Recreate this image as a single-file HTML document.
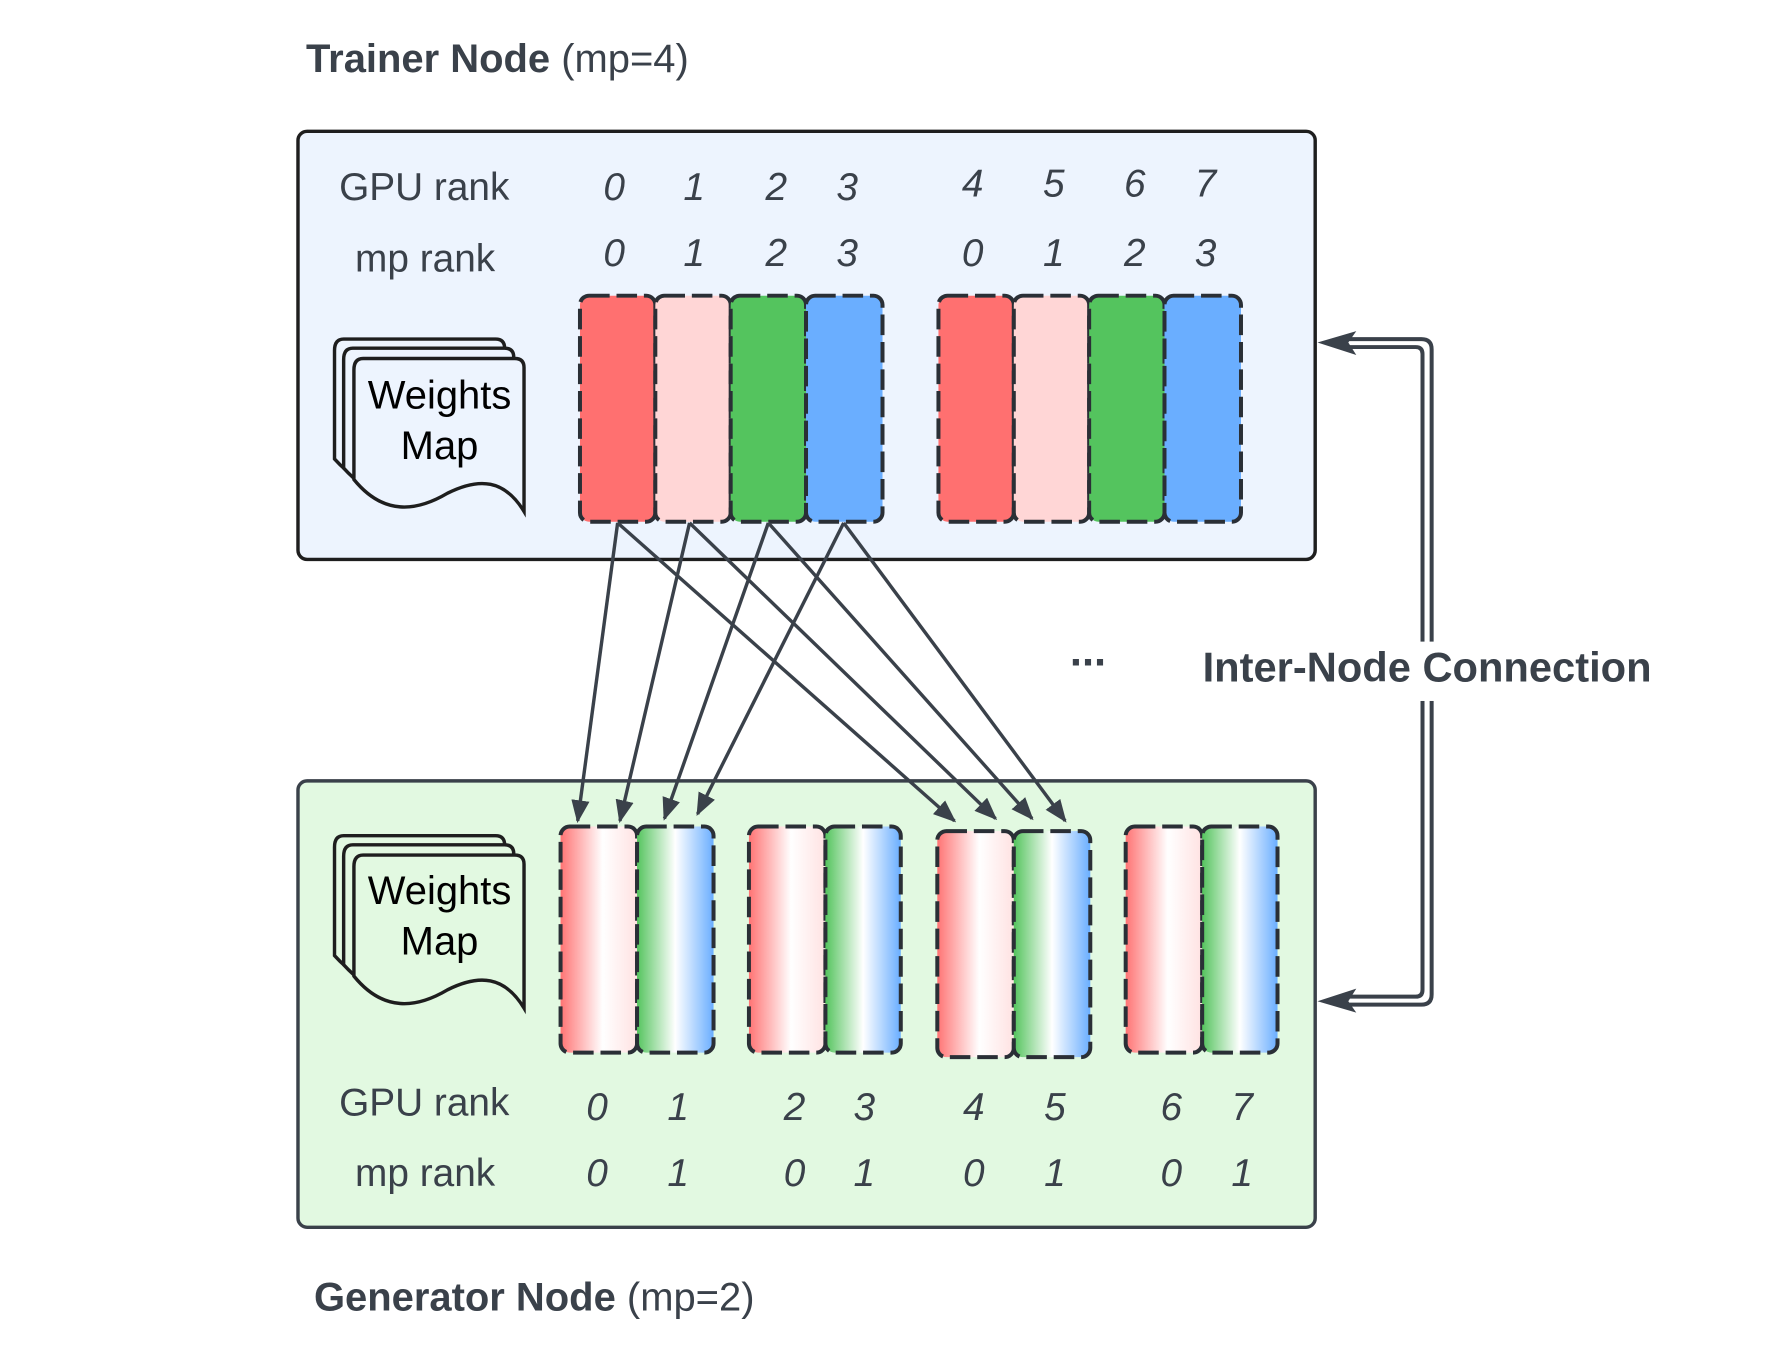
<!DOCTYPE html>
<html><head><meta charset="utf-8"><style>html,body{margin:0;padding:0;background:#fff}svg{display:block}</style></head>
<body>
<svg width="1781" height="1354" viewBox="0 0 1560 1186" xmlns="http://www.w3.org/2000/svg" font-family="Liberation Sans, sans-serif">
<defs>
<linearGradient id="rg" x1="0" x2="1" y1="0" y2="0"><stop offset="0" stop-color="#ff7474"/><stop offset="0.55" stop-color="#ffffff"/><stop offset="1" stop-color="#ffe2e2"/></linearGradient>
<linearGradient id="gb" x1="0" x2="1" y1="0" y2="0"><stop offset="0" stop-color="#55c45e"/><stop offset="0.5" stop-color="#ffffff"/><stop offset="1" stop-color="#6aaeff"/></linearGradient>
<marker id="ah2" markerWidth="20" markerHeight="16" refX="18" refY="8" orient="auto" markerUnits="userSpaceOnUse" viewBox="0 0 20 16"><path d="M0,0 L20,8 L0,16 Z" fill="#3a414a"/></marker>
</defs>

<text x="268" y="63" font-size="35" fill="#3a414a"><tspan font-weight="bold">Trainer Node</tspan> (mp=4)</text>
<text x="275" y="1148" font-size="35" fill="#3a414a"><tspan font-weight="bold">Generator Node</tspan> (mp=2)</text>

<rect x="261" y="115" width="891" height="375" rx="8" fill="#edf4fe" stroke="#1e1e1e" stroke-width="3"/>
<rect x="261" y="684" width="891" height="391" rx="8" fill="#e2f9e1" stroke="#3a414a" stroke-width="3"/>

<g font-size="34" fill="#3a414a">
<text x="297" y="175">GPU rank</text><text x="311" y="238">mp rank</text>
<text x="297" y="977">GPU rank</text><text x="311" y="1039">mp rank</text>
</g>
<g font-size="34" fill="#3a414a" font-style="italic" text-anchor="middle">
<text x="538" y="175">0</text><text x="608" y="175">1</text><text x="680" y="175">2</text><text x="742" y="175">3</text>
<text x="852" y="172">4</text><text x="923" y="172">5</text><text x="994" y="172">6</text><text x="1056" y="172">7</text>
<text x="538" y="233">0</text><text x="608" y="233">1</text><text x="680" y="233">2</text><text x="742" y="233">3</text>
<text x="852" y="233">0</text><text x="923" y="233">1</text><text x="994" y="233">2</text><text x="1056" y="233">3</text>
<text x="523" y="981">0</text><text x="594" y="981">1</text><text x="696" y="981">2</text><text x="757" y="981">3</text>
<text x="853" y="981">4</text><text x="924" y="981">5</text><text x="1026" y="981">6</text><text x="1088" y="981">7</text>
<text x="523" y="1039">0</text><text x="594" y="1039">1</text><text x="696" y="1039">0</text><text x="757" y="1039">1</text>
<text x="853" y="1039">0</text><text x="924" y="1039">1</text><text x="1026" y="1039">0</text><text x="1088" y="1039">1</text>
</g>

<g stroke="#2a2f36" stroke-width="3.5" stroke-dasharray="18 6">
<rect x="508" y="259" width="66" height="198" rx="8" fill="#ff7070"/>
<rect x="574" y="259" width="66" height="198" rx="8" fill="#ffd6d6"/>
<rect x="640" y="259" width="66" height="198" rx="8" fill="#54c45e"/>
<rect x="706" y="259" width="67" height="198" rx="8" fill="#6aaeff"/>
<rect x="822" y="259" width="66" height="198" rx="8" fill="#ff7070"/>
<rect x="888" y="259" width="66" height="198" rx="8" fill="#ffd6d6"/>
<rect x="954" y="259" width="66" height="198" rx="8" fill="#54c45e"/>
<rect x="1020" y="259" width="67" height="198" rx="8" fill="#6aaeff"/>
</g>
<g stroke="#2a2f36" stroke-width="3.5" stroke-dasharray="18 6">
<rect x="491" y="724" width="67" height="198" rx="8" fill="url(#rg)"/>
<rect x="558" y="724" width="67" height="198" rx="8" fill="url(#gb)"/>
<rect x="656" y="724" width="67" height="198" rx="8" fill="url(#rg)"/>
<rect x="723" y="724" width="66" height="198" rx="8" fill="url(#gb)"/>
<rect x="821" y="728" width="67" height="198" rx="8" fill="url(#rg)"/>
<rect x="888" y="728" width="67" height="198" rx="8" fill="url(#gb)"/>
<rect x="986" y="724" width="67" height="198" rx="8" fill="url(#rg)"/>
<rect x="1053" y="724" width="66" height="198" rx="8" fill="url(#gb)"/>
</g>

<g stroke="#1e1e1e" stroke-width="3" fill="#edf4fe">
<path d="M293,307 q0,-10 8,-10 h133 q8,0 8,8 v118 C425,395 400,408 378,420 C350,434 320,432 293,402 Z"/>
<path d="M301,315 q0,-10 8,-10 h133 q8,0 8,8 v118 C433,403 408,416 386,428 C358,442 328,440 301,410 Z"/>
<path d="M310,324 q0,-10 8,-10 h133 q8,0 8,8 v126 C442,420 420,418 392,432 C365,448 336,452 310,420 Z"/>
</g>
<g stroke="#1e1e1e" stroke-width="3" fill="#e2f9e1">
<path d="M293,742 q0,-10 8,-10 h133 q8,0 8,8 v118 C425,830 400,843 378,855 C350,869 320,867 293,837 Z"/>
<path d="M301,750 q0,-10 8,-10 h133 q8,0 8,8 v118 C433,838 408,851 386,863 C358,877 328,875 301,845 Z"/>
<path d="M310,759 q0,-10 8,-10 h133 q8,0 8,8 v126 C442,855 420,853 392,867 C365,883 336,887 310,855 Z"/>
</g>
<g font-size="35" fill="#000" text-anchor="middle">
<text x="385" y="358">Weights</text><text x="385" y="402">Map</text>
<text x="385" y="792">Weights</text><text x="385" y="836">Map</text>
</g>

<g stroke="#3a414a" stroke-width="3" fill="none" marker-end="url(#ah2)">
<line x1="541" y1="458" x2="506" y2="719"/>
<line x1="604" y1="458" x2="543" y2="719"/>
<line x1="673" y1="458" x2="582" y2="717"/>
<line x1="739" y1="458" x2="611" y2="713"/>
<line x1="541" y1="458" x2="836" y2="719"/>
<line x1="604" y1="458" x2="872" y2="717"/>
<line x1="673" y1="458" x2="904" y2="717"/>
<line x1="739" y1="458" x2="933" y2="719"/>
</g>

<text x="953" y="583" font-size="38" font-weight="bold" fill="#3a414a" text-anchor="middle">...</text>

<g stroke="#3a414a" stroke-width="3.5" fill="none">
<path d="M1172,297 H1245 Q1254,297 1254,306 V871 Q1254,880 1245,880 H1172"/>
<path d="M1172,304 H1240 Q1246,304 1246,310 V867 Q1246,873 1240,873 H1172"/>
</g>
<path d="M1154,300 L1188,290 L1181,300 L1188,311 Z" fill="#3a414a"/>
<path d="M1154,877 L1188,866 L1181,877 L1188,887 Z" fill="#3a414a"/>
<rect x="1236" y="562" width="28" height="52" fill="#fff"/>
<text x="1250" y="597" font-size="36.5" font-weight="bold" fill="#3a414a" text-anchor="middle">Inter-Node Connection</text>
</svg>
</body></html>
